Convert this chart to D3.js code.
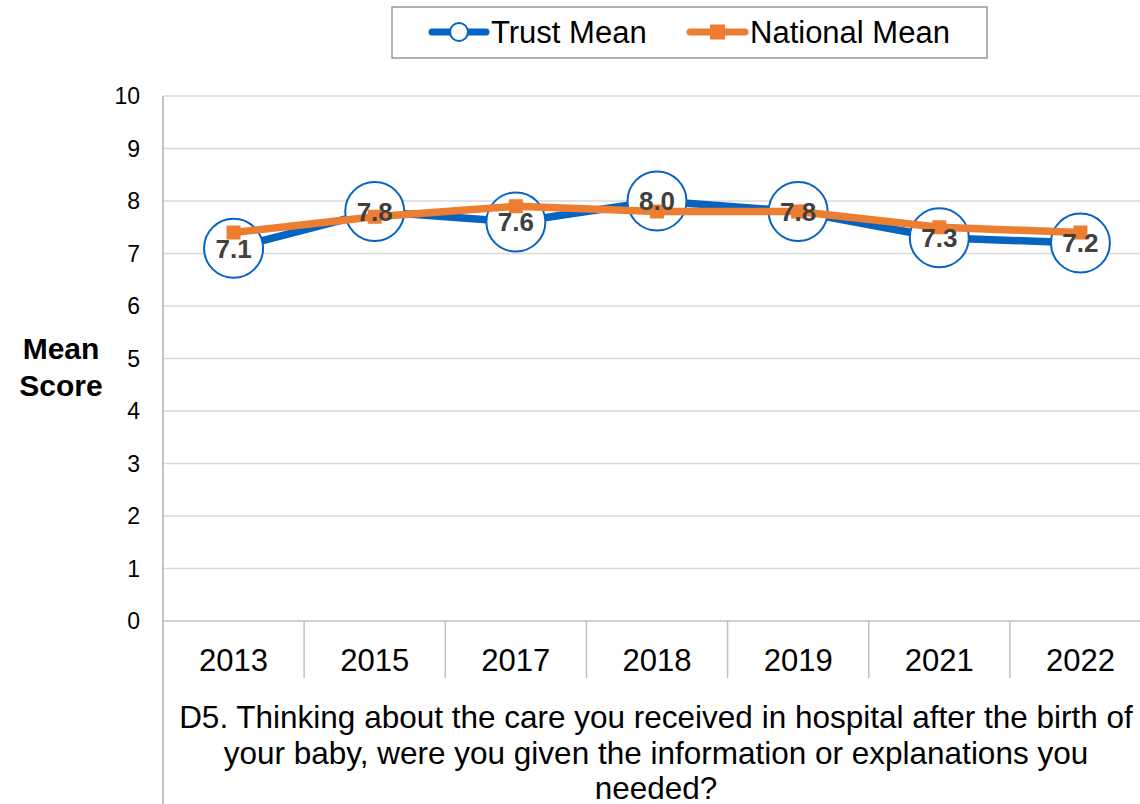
<!DOCTYPE html>
<html>
<head>
<meta charset="utf-8">
<script src="https://cdn.jsdelivr.net/npm/d3@7"></script>
<style>
  html, body { margin: 0; padding: 0; background: #fff; }
  svg { display: block; font-family: Arial, "Liberation Sans", sans-serif; }
</style>
</head>
<body>
<svg id="chart" width="1140" height="804"></svg>
<script>
// Survey years and mean scores
const years = ["2013", "2015", "2017", "2018", "2019", "2021", "2022"];
const trustMean = [7.1, 7.8, 7.6, 8.0, 7.8, 7.3, 7.2];
const nationalMean = [7.4, 7.7, 7.9, 7.8, 7.8, 7.5, 7.4];
const yTicks = [0, 1, 2, 3, 4, 5, 6, 7, 8, 9, 10];
const questionLines = [
  "D5. Thinking about the care you received in hospital after the birth of",
  "your baby, were you given the information or explanations you",
  "needed?"
];

const BLUE = "#0563C1";
const ORANGE = "#ED7D31";

(function () {
const svg = d3.select("#chart");
const plotLeft = 163, plotRight = 1151, plotTop = 96, plotBottom = 621;

const x = d3.scaleBand().domain(years).range([plotLeft, plotRight]);
const y = d3.scaleLinear().domain([0, 10]).range([plotBottom, plotTop]);
const cx = d => x(d) + x.bandwidth() / 2;

// Horizontal gridlines
svg.append("g").selectAll("line").data(yTicks.filter(t => t > 0)).join("line")
  .attr("x1", plotLeft).attr("x2", plotRight)
  .attr("y1", d => y(d)).attr("y2", d => y(d))
  .attr("stroke", "#d9d9d9").attr("stroke-width", 1.3);

// Y tick labels
svg.append("g").selectAll("text").data(yTicks).join("text")
  .attr("x", 140).attr("y", d => y(d))
  .attr("dy", "0.36em").attr("text-anchor", "end")
  .attr("font-size", 23).attr("fill", "#000").text(d => d);

// Category axis: baseline and separators
svg.append("line").attr("x1", plotLeft).attr("x2", plotRight)
  .attr("y1", plotBottom).attr("y2", plotBottom)
  .attr("stroke", "#bfbfbf").attr("stroke-width", 1.5);
svg.append("g").selectAll("line").data(years.slice(1)).join("line")
  .attr("x1", d => x(d)).attr("x2", d => x(d))
  .attr("y1", plotBottom).attr("y2", 678)
  .attr("stroke", "#bfbfbf").attr("stroke-width", 1.5);

// Value axis line (runs down through the question area)
svg.append("line").attr("x1", plotLeft).attr("x2", plotLeft)
  .attr("y1", plotTop).attr("y2", 804)
  .attr("stroke", "#a6a6a6").attr("stroke-width", 1.3);

// Category labels
svg.append("g").selectAll("text").data(years).join("text")
  .attr("x", d => cx(d)).attr("y", 660)
  .attr("dy", "0.36em").attr("text-anchor", "middle")
  .attr("font-size", 31).attr("fill", "#000").text(d => d);

// Question text
svg.append("g").selectAll("text").data(questionLines).join("text")
  .attr("x", 656).attr("y", (d, i) => 717 + i * 35.5)
  .attr("dy", "0.36em").attr("text-anchor", "middle")
  .attr("font-size", 31.5).attr("fill", "#000").text(d => d);

// Axis title
svg.append("g").selectAll("text").data(["Mean", "Score"]).join("text")
  .attr("x", 61).attr("y", (d, i) => 348 + i * 37)
  .attr("dy", "0.36em").attr("text-anchor", "middle")
  .attr("font-size", 30).attr("font-weight", "bold").attr("fill", "#000").text(d => d);

const line = d3.line().x(d => cx(d.year)).y(d => y(d.v));
const trustPts = years.map((yr, i) => ({ year: yr, v: trustMean[i] }));
const natPts = years.map((yr, i) => ({ year: yr, v: nationalMean[i] }));

// Trust series
svg.append("path").datum(trustPts).attr("d", line)
  .attr("fill", "none").attr("stroke", BLUE).attr("stroke-width", 7.5)
  .attr("stroke-linejoin", "round");
svg.append("g").selectAll("circle").data(trustPts).join("circle")
  .attr("cx", d => cx(d.year)).attr("cy", d => y(d.v)).attr("r", 29.5)
  .attr("fill", "#fff").attr("stroke", BLUE).attr("stroke-width", 2);

// National series
svg.append("path").datum(natPts).attr("d", line)
  .attr("fill", "none").attr("stroke", ORANGE).attr("stroke-width", 7.5)
  .attr("stroke-linejoin", "round");
svg.append("g").selectAll("rect").data(natPts).join("rect")
  .attr("x", d => cx(d.year) - 7).attr("y", d => y(d.v) - 7)
  .attr("width", 14).attr("height", 14).attr("fill", ORANGE);

// Trust value labels
svg.append("g").selectAll("text").data(trustPts).join("text")
  .attr("x", d => cx(d.year)).attr("y", d => y(d.v))
  .attr("dy", "0.36em").attr("text-anchor", "middle")
  .attr("font-size", 26).attr("font-weight", "bold").attr("fill", "#404040")
  .text(d => d.v.toFixed(1));

// Legend
const lg = svg.append("g");
lg.append("rect").attr("x", 392).attr("y", 7).attr("width", 595).attr("height", 51)
  .attr("fill", "#fff").attr("stroke", "#888").attr("stroke-width", 1.3);
lg.append("line").attr("x1", 432).attr("x2", 486).attr("y1", 32).attr("y2", 32)
  .attr("stroke", BLUE).attr("stroke-width", 7).attr("stroke-linecap", "round");
lg.append("circle").attr("cx", 459).attr("cy", 32).attr("r", 9)
  .attr("fill", "#fff").attr("stroke", BLUE).attr("stroke-width", 2);
lg.append("text").attr("x", 491).attr("y", 32).attr("dy", "0.36em")
  .attr("font-size", 31).attr("fill", "#000").text("Trust Mean");
lg.append("line").attr("x1", 690).attr("x2", 745).attr("y1", 32).attr("y2", 32)
  .attr("stroke", ORANGE).attr("stroke-width", 7).attr("stroke-linecap", "round");
lg.append("rect").attr("x", 710).attr("y", 24.5).attr("width", 15).attr("height", 15)
  .attr("fill", ORANGE);
lg.append("text").attr("x", 750).attr("y", 32).attr("dy", "0.36em")
  .attr("font-size", 31).attr("fill", "#000").text("National Mean");
})();
</script>
</body>
</html>
